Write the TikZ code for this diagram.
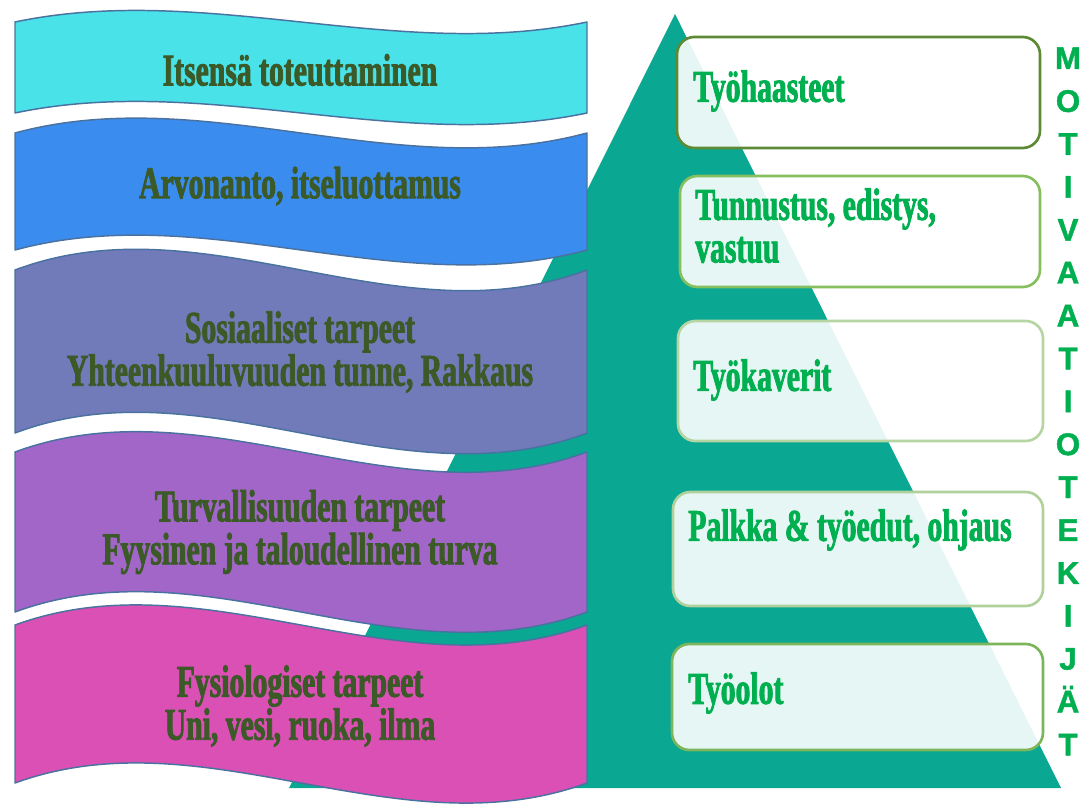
\documentclass[tikz,border=0pt]{standalone}
\usepackage{fontspec}
\newfontfamily\condfont[FakeStretch=0.655,FakeBold=1.8]{Liberation Serif}
\newfontfamily\letterfont[FakeBold=1.4]{Liberation Sans}

\definecolor{bannercyan}{HTML}{48E2E8}
\definecolor{bannerblue}{HTML}{3B8CEF}
\definecolor{bannerslate}{HTML}{727BBA}
\definecolor{bannerpurple}{HTML}{A266C8}
\definecolor{bannerpink}{HTML}{DA50B4}
\definecolor{bannerline}{HTML}{4A72A0}
\definecolor{pyramidteal}{HTML}{0AA793}
\definecolor{needtext}{HTML}{3B5A27}
\definecolor{factorgreen}{HTML}{00B050}
\definecolor{edgeA}{HTML}{5E8A35}
\definecolor{edgeB}{HTML}{86BF5E}
\definecolor{edgeC}{HTML}{B5D6A2}
\definecolor{edgeD}{HTML}{B0D19C}
\definecolor{edgeE}{HTML}{7CB55A}

% wavy banner: #1 top y, #2 height, #3 fill colour; wave depth grows with height
\newcommand\wavebanner[3]{%
  \pgfmathsetmacro\wk{0.44*#2}%
  \draw[banner, fill=#3]
    (15,#1) .. controls (205.7,#1-\wk) and (396.3,#1+\wk) .. (587,#1)
    -- (587,#1+#2)
    .. controls (396.3,#1+#2+\wk) and (205.7,#1+#2-\wk) .. (15,#1+#2)
    -- cycle;}

\begin{document}
\begin{tikzpicture}[x=0.75pt,y=-0.75pt,
  banner/.style={draw=bannerline, line width=1.1pt, line join=round},
  needlabel/.style={font=\condfont\bfseries\fontsize{34}{32.2}\selectfont,
    text=needtext, align=center, inner sep=0pt},
  factorbox/.style={draw=#1, line width=2pt, rounded corners=13pt,
    fill=white, fill opacity=0.9, draw opacity=1, inner sep=0pt},
  factorlabel/.style={font=\condfont\bfseries\fontsize{34}{25}\selectfont,
    text=factorgreen, align=left, inner sep=0pt, anchor=west},
  letter/.style={font=\letterfont\bfseries\fontsize{23.5}{23.5}\selectfont,
    text=factorgreen, inner sep=0pt, anchor=base}]
\useasboundingbox (0,0) rectangle (1091,805);

% pyramid
\fill[pyramidteal] (675,14) -- (1061,788) -- (289,788) -- cycle;

% needs banners
\wavebanner{22}{91}{bannercyan}
\wavebanner{133}{117}{bannerblue}
\wavebanner{270}{163}{bannerslate}
\wavebanner{452}{160}{bannerpurple}
\wavebanner{625}{158}{bannerpink}

\node[needlabel] (n1) at (300,70) {Itsensä toteuttaminen};
\node[needlabel] (n2) at (300,186) {Arvonanto, itseluottamus};
\node[needlabel] (n3) at (300,352) {Sosiaaliset tarpeet\\Yhteenkuuluvuuden tunne, Rakkaus};
\node[needlabel] (n4) at (300,532) {Turvallisuuden tarpeet\\Fyysinen ja taloudellinen turva};
\node[needlabel] (n5) at (300,706) {Fysiologiset tarpeet\\Uni, vesi, ruoka, ilma};

% motivation factor boxes
\draw[factorbox=edgeA] (677,37) rectangle (1040,148);
\draw[factorbox=edgeB] (680,176) rectangle (1040,287);
\draw[factorbox=edgeC] (678,321) rectangle (1043,441);
\draw[factorbox=edgeD] (673,492) rectangle (1043,606);
\draw[factorbox=edgeE] (672,644) rectangle (1043,750);

\node[factorlabel] (f1) at (693,91) {Työhaasteet};
\node[factorlabel] (f2) at (695,209) {Tunnustus, edistys,};
\node[factorlabel] (f2b) at (695,250) {vastuu};
\node[factorlabel] (f3) at (693,380) {Työkaverit};
\node[factorlabel] (f4) at (688,530) {Palkka \& työedut, ohjaus};
\node[factorlabel] (f5) at (688,693) {Työolot};

% vertical caption
\foreach \ch [count=\i] in {M,O,T,I,V,A,A,T,I,O,T,E,K,I,J,Ä,T}
  \node[letter] (m\i) at (1068,{69+(\i-1)*42.9}) {\ch};
\end{tikzpicture}
\end{document}
